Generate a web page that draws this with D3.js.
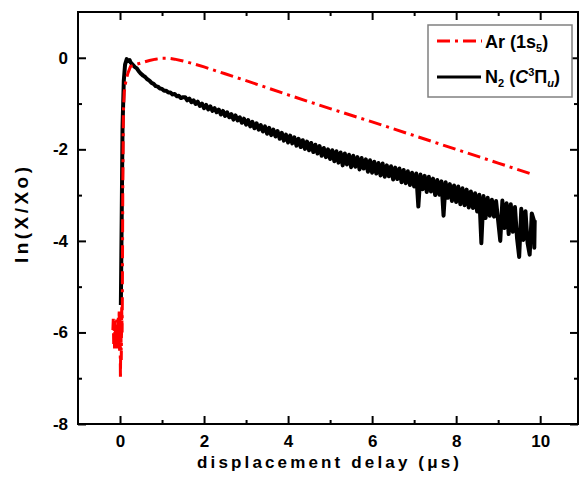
<!DOCTYPE html>
<html>
<head>
<meta charset="utf-8">
<script src="https://cdn.jsdelivr.net/npm/d3@7.9.0/dist/d3.min.js"></script>
<style>
  body { margin: 0; background: #fff; }
  svg { display: block; font-family: "Liberation Sans", Arial, sans-serif; }
</style>
</head>
<body>
<svg id="chart" width="582" height="483"></svg>
<script>
const xMajor = [0, 2, 4, 6, 8, 10];
const xMinor = [1, 3, 5, 7, 9];
const yMajor = [0, -2, -4, -6, -8];
const yMinor = [-1, -3, -5, -7];

// Ar (1s5) : [delay (us), ln(X/Xo)]
const arPoints = [
  [-0.17,-5.95],[-0.16,-5.70],[-0.15,-6.25],[-0.14,-5.80],[-0.13,-6.35],[-0.12,-5.75],
  [-0.11,-6.20],[-0.10,-5.85],[-0.09,-6.40],[-0.08,-5.72],[-0.07,-6.30],[-0.06,-5.90],
  [-0.05,-6.35],[-0.04,-5.65],[-0.03,-6.25],[-0.02,-5.50],[-0.01,-6.45],[0.00,-5.60],
  [0.01,-7.02],[0.02,-5.80],[0.03,-6.60],[0.04,-5.45],[0.05,-6.00],[0.055,-5.35],
  [0.065,-3.00],[0.08,-1.20],[0.10,-0.75],[0.14,-0.50],[0.19,-0.33],[0.25,-0.19],
  [0.40,-0.14],[0.55,-0.10],[0.70,-0.06],[0.85,-0.03],[1.00,-0.01],[1.15,-0.01],
  [1.30,-0.03],[1.50,-0.07],[1.75,-0.13],[2.00,-0.20],[2.50,-0.35],[3.00,-0.50],
  [4.00,-0.81],[5.00,-1.11],[6.00,-1.40],[7.00,-1.70],[8.00,-2.00],[9.00,-2.30],
  [9.83,-2.55]
];

// N2 (C3Pi_u) : [delay (us), ln(X/Xo)]
const n2Points = [
  [0.02,-5.40],[0.04,-3.50],[0.06,-1.50],[0.09,-0.50],[0.12,-0.15],[0.16,-0.03],[0.20,-0.07],[0.23,-0.05],
  [0.25,-0.10],[0.30,-0.15],[0.35,-0.20],[0.40,-0.23],[0.45,-0.30],[0.50,-0.35],[0.55,-0.39],[0.60,-0.42],
  [0.65,-0.47],[0.70,-0.50],[0.75,-0.55],[0.80,-0.57],[0.85,-0.62],[0.90,-0.63],[0.95,-0.67],[1.00,-0.68],
  [1.05,-0.72],[1.10,-0.72],[1.15,-0.76],[1.20,-0.76],[1.25,-0.80],[1.30,-0.79],[1.35,-0.84],[1.40,-0.83],
  [1.45,-0.88],[1.50,-0.86],[1.55,-0.86],[1.60,-0.93],[1.65,-0.89],[1.70,-0.97],[1.75,-0.93],[1.80,-1.01],
  [1.85,-0.96],[1.90,-1.05],[1.95,-1.00],[2.00,-1.10],[2.05,-1.03],[2.10,-1.13],[2.15,-1.06],[2.20,-1.16],
  [2.25,-1.10],[2.30,-1.19],[2.35,-1.13],[2.40,-1.24],[2.45,-1.16],[2.50,-1.27],[2.55,-1.19],[2.60,-1.30],
  [2.65,-1.23],[2.70,-1.35],[2.75,-1.26],[2.80,-1.37],[2.85,-1.30],[2.90,-1.42],[2.95,-1.33],[3.00,-1.46],
  [3.05,-1.36],[3.10,-1.50],[3.15,-1.40],[3.20,-1.54],[3.25,-1.43],[3.30,-1.57],[3.35,-1.47],[3.40,-1.61],
  [3.45,-1.50],[3.50,-1.66],[3.55,-1.53],[3.60,-1.69],[3.65,-1.57],[3.70,-1.72],[3.75,-1.60],[3.80,-1.77],
  [3.85,-1.64],[3.90,-1.81],[3.95,-1.68],[4.00,-1.85],[4.05,-1.70],[4.10,-1.87],[4.15,-1.74],[4.20,-1.92],
  [4.25,-1.77],[4.30,-1.95],[4.35,-1.80],[4.40,-1.99],[4.45,-1.83],[4.50,-2.02],[4.55,-1.86],[4.60,-2.06],
  [4.65,-1.90],[4.70,-2.09],[4.75,-1.93],[4.80,-2.14],[4.85,-1.97],[4.90,-2.17],[4.95,-2.00],[5.00,-2.21],
  [5.05,-2.02],[5.10,-2.26],[5.15,-2.04],[5.20,-2.29],[5.25,-2.07],[5.30,-2.35],[5.35,-2.09],[5.40,-2.33],
  [5.45,-2.12],[5.50,-2.39],[5.55,-2.14],[5.60,-2.38],[5.65,-2.17],[5.70,-2.44],[5.75,-2.19],[5.80,-2.42],
  [5.85,-2.22],[5.90,-2.49],[5.95,-2.24],[6.00,-2.51],[6.05,-2.27],[6.10,-2.53],[6.15,-2.30],[6.20,-2.57],
  [6.25,-2.31],[6.30,-2.60],[6.35,-2.35],[6.40,-2.59],[6.45,-2.37],[6.50,-2.66],[6.55,-2.40],[6.60,-2.65],
  [6.65,-2.42],[6.70,-2.72],[6.75,-2.45],[6.80,-2.74],[6.85,-2.48],[6.90,-2.78],[6.95,-2.51],[7.00,-2.81],
  [7.05,-2.53],[7.10,-3.25],[7.15,-2.55],[7.20,-2.87],[7.25,-2.58],[7.30,-2.93],[7.35,-2.60],[7.40,-2.92],
  [7.45,-2.64],[7.50,-3.00],[7.55,-2.67],[7.60,-2.99],[7.65,-2.70],[7.70,-3.45],[7.75,-2.72],[7.80,-3.06],
  [7.85,-2.76],[7.90,-3.13],[7.95,-2.79],[8.00,-3.15],[8.05,-2.81],[8.10,-3.20],[8.15,-2.85],[8.20,-3.22],
  [8.25,-2.88],[8.30,-3.27],[8.35,-2.92],[8.40,-3.28],[8.45,-2.96],[8.50,-3.36],[8.55,-2.99],[8.60,-4.05],
  [8.65,-3.02],[8.70,-3.50],[8.75,-3.06],[8.80,-3.45],[8.85,-3.10],[8.90,-3.47],[8.95,-3.13],[9.00,-3.56],
  [9.05,-4.00],[9.10,-3.12],[9.15,-3.72],[9.20,-3.18],[9.25,-3.85],[9.30,-3.20],[9.35,-3.80],[9.40,-3.26],
  [9.45,-3.95],[9.50,-4.35],[9.55,-3.30],[9.60,-3.98],[9.65,-3.35],[9.70,-4.05],[9.75,-4.30],[9.80,-3.40],
  [9.85,-3.55],[9.86,-4.15],[9.87,-3.55]
];

const svg = d3.select("#chart");
const plot = { left: 78, right: 578, top: 12, bottom: 424 };

const x = d3.scaleLinear().domain([-1, 10.9]).range([plot.left, plot.right]);
const y = d3.scaleLinear().domain([-8, 1]).range([plot.bottom, plot.top]);

function styleAxis(g) {
  g.select(".domain").remove();
  g.attr("font-family", null).attr("font-size", null);
  g.selectAll(".tick line").attr("stroke", "#000").attr("stroke-width", 2);
  g.selectAll(".tick text")
    .attr("fill", "#000")
    .style("font-size", "17px")
    .style("font-weight", "bold");
}

const label = (d) => String(d);

// bottom
svg.append("g").attr("transform", `translate(0,${plot.bottom})`)
  .call(d3.axisBottom(x).tickValues(xMajor).tickSize(-8).tickPadding(11).tickFormat(label))
  .call(styleAxis);
svg.append("g").attr("transform", `translate(0,${plot.bottom})`)
  .call(d3.axisBottom(x).tickValues(xMinor).tickSize(-4).tickFormat(""))
  .call(styleAxis);
// top
svg.append("g").attr("transform", `translate(0,${plot.top})`)
  .call(d3.axisTop(x).tickValues(xMajor).tickSize(-8).tickFormat(""))
  .call(styleAxis);
svg.append("g").attr("transform", `translate(0,${plot.top})`)
  .call(d3.axisTop(x).tickValues(xMinor).tickSize(-4).tickFormat(""))
  .call(styleAxis);
// left
svg.append("g").attr("transform", `translate(${plot.left},0)`)
  .call(d3.axisLeft(y).tickValues(yMajor).tickSize(-8).tickPadding(10).tickFormat(label))
  .call(styleAxis);
svg.append("g").attr("transform", `translate(${plot.left},0)`)
  .call(d3.axisLeft(y).tickValues(yMinor).tickSize(-4).tickFormat(""))
  .call(styleAxis);
// right
svg.append("g").attr("transform", `translate(${plot.right},0)`)
  .call(d3.axisRight(y).tickValues(yMajor).tickSize(-8).tickFormat(""))
  .call(styleAxis);
svg.append("g").attr("transform", `translate(${plot.right},0)`)
  .call(d3.axisRight(y).tickValues(yMinor).tickSize(-4).tickFormat(""))
  .call(styleAxis);

// frame
svg.append("rect")
  .attr("x", plot.left).attr("y", plot.top)
  .attr("width", plot.right - plot.left).attr("height", plot.bottom - plot.top)
  .attr("fill", "none").attr("stroke", "#000").attr("stroke-width", 2);

const line = d3.line().x((d) => x(d[0])).y((d) => y(d[1]));

svg.append("path")
  .datum(n2Points)
  .attr("d", line)
  .attr("fill", "none")
  .attr("stroke", "#000")
  .attr("stroke-width", 4)
  .attr("stroke-linejoin", "round");

svg.append("path")
  .datum(arPoints)
  .attr("d", line)
  .attr("fill", "none")
  .attr("stroke", "#ff0000")
  .attr("stroke-width", 3)
  .attr("stroke-dasharray", "13,5,3,5");

// axis titles
svg.append("text")
  .attr("x", (plot.left + plot.right) / 2).attr("y", 468)
  .attr("text-anchor", "middle")
  .attr("textLength", 262).attr("lengthAdjust", "spacing")
  .style("font-size", "17px").style("font-weight", "bold")
  .text("displacement delay (\u03bcs)");

svg.append("text")
  .attr("transform", "translate(28,215) rotate(-90)")
  .attr("text-anchor", "middle")
  .attr("textLength", 96).attr("lengthAdjust", "spacing")
  .style("font-size", "19px").style("font-weight", "bold")
  .text("ln(X/Xo)");

// legend
const legend = svg.append("g");
legend.append("rect")
  .attr("x", 428).attr("y", 25).attr("width", 144).attr("height", 72)
  .attr("fill", "#fff").attr("stroke", "#808080").attr("stroke-width", 1.5);

legend.append("line")
  .attr("x1", 437).attr("x2", 482).attr("y1", 41).attr("y2", 41)
  .attr("stroke", "#ff0000").attr("stroke-width", 3)
  .attr("stroke-dasharray", "13,5,3,5");
legend.append("line")
  .attr("x1", 437).attr("x2", 481).attr("y1", 77).attr("y2", 77)
  .attr("stroke", "#000").attr("stroke-width", 3);

const t1 = legend.append("text").attr("x", 485).attr("y", 48)
  .style("font-size", "18px").style("font-weight", "bold");
t1.append("tspan").text("Ar (1s");
t1.append("tspan").attr("dy", 4).style("font-size", "11px").text("5");
t1.append("tspan").attr("dy", -4).text(")");

const t2 = legend.append("text").attr("x", 485).attr("y", 83)
  .style("font-size", "18px").style("font-weight", "bold");
t2.append("tspan").text("N");
t2.append("tspan").attr("dy", 4).style("font-size", "11px").text("2");
t2.append("tspan").attr("dy", -4).text(" (");
t2.append("tspan").style("font-style", "italic").text("C");
t2.append("tspan").attr("dy", -7).style("font-size", "11px").text("3");
t2.append("tspan").attr("dy", 7).text("\u03a0");
t2.append("tspan").attr("dy", 4).style("font-size", "11px").style("font-style", "italic").text("u");
t2.append("tspan").attr("dy", -4).text(")");
</script>
</body>
</html>
